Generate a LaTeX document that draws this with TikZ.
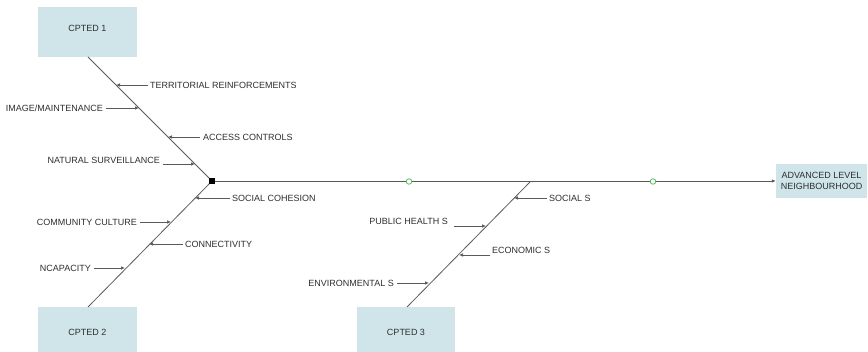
\documentclass[tikz,border=0pt]{standalone}
\usepackage{fontspec}
\setmainfont{Liberation Sans}
\usetikzlibrary{arrows.meta,calc}
\definecolor{boxfill}{HTML}{CFE5E9}
\definecolor{txt}{HTML}{2E2E2E}
\definecolor{ln}{HTML}{5A5A5A}
\definecolor{grn}{HTML}{5CB85C}
\begin{document}
\begin{tikzpicture}[x=1pt,y=-1pt,
  cbox/.style={fill=boxfill,draw=none,inner sep=0pt},
  lbl/.style={font=\fontsize{9}{10.5}\selectfont,text=txt,inner sep=0pt},
  bone/.style={draw=ln,line width=0.8pt},
  rib/.style={draw=ln,line width=0.7pt,-{Latex[length=4pt,width=3.5pt]}},
  gdot/.style={draw=grn,line width=0.8pt,circle,minimum size=5.5pt,inner sep=0pt,fill=white}]
\useasboundingbox (0,0) rectangle (868,352);
% boxes
\node[cbox,minimum width=99pt,minimum height=50pt] (c1) at (87.5,32) {};
\node[lbl] (c1t) at (87.5,28) {CPTED 1};
\node[cbox,minimum width=99pt,minimum height=46pt] (c2) at (87.5,330) {};
\node[lbl] (c2t) at (87.5,332) {CPTED 2};
\node[cbox,minimum width=98pt,minimum height=46pt] (c3) at (406,330) {};
\node[lbl] (c3t) at (406,332) {CPTED 3};
\node[lbl,cbox,minimum width=91pt,minimum height=34pt,align=center] (adv) at (821.5,181) {ADVANCED LEVEL\\NEIGHBOURHOOD};
% junctions
\coordinate (j1) at (212,181);
\coordinate (j3) at (530,182);
\coordinate (b1) at (88,57);
\coordinate (b2) at (88,307);
\coordinate (b3) at (407,307);
% spine
\draw[rib,line width=0.8pt] (j1) -- (adv.west);
\draw[bone] (b1) -- (j1);
\draw[bone] (b2) -- (j1);
\draw[bone] (b3) -- (j3);
\fill[black] ($(j1)+(-3,-3)$) rectangle ($(j1)+(3,3)$);
\node[gdot] (g1) at (409,181.5) {};
\node[gdot] (g2) at (653,181.5) {};
% CPTED 1 ribs
\node[lbl,anchor=west] (t1) at (150,85) {TERRITORIAL REINFORCEMENTS};
\coordinate (p1) at (116,85);
\draw[rib] ([xshift=-2pt]t1.west) -- (p1);
\node[lbl,anchor=east] (t2) at (103,108) {IMAGE/MAINTENANCE};
\coordinate (p2) at (139,108);
\draw[rib] ([xshift=3pt]t2.east) -- (p2);
\node[lbl,anchor=west] (t3) at (203,137) {ACCESS CONTROLS};
\coordinate (p3) at (168,137);
\draw[rib] ([xshift=-3pt]t3.west) -- (p3);
\node[lbl,anchor=east] (t4) at (160,160) {NATURAL SURVEILLANCE};
\coordinate (p4) at (195,164);
\coordinate (s4) at (163,164);
\draw[rib] (s4) -- (p4);
% CPTED 2 ribs
\node[lbl,anchor=west] (t5) at (232,198) {SOCIAL COHESION};
\coordinate (p5) at (195,198);
\draw[rib] ([xshift=-2pt]t5.west) -- (p5);
\node[lbl,anchor=east] (t6) at (137,222) {COMMUNITY CULTURE};
\coordinate (p6) at (171,222);
\draw[rib] ([xshift=3pt]t6.east) -- (p6);
\node[lbl,anchor=west] (t7) at (185,244) {CONNECTIVITY};
\coordinate (p7) at (149,244);
\draw[rib] ([xshift=-2pt]t7.west) -- (p7);
\node[lbl,anchor=east] (t8) at (91,268) {NCAPACITY};
\coordinate (p8) at (125,268);
\draw[rib] ([xshift=3pt]t8.east) -- (p8);
% CPTED 3 ribs
\node[lbl,anchor=west] (t9) at (549,198) {SOCIAL S};
\coordinate (p9) at (514,198);
\draw[rib] ([xshift=-2pt]t9.west) -- (p9);
\node[lbl,anchor=east] (t10) at (448,221) {PUBLIC HEALTH S};
\coordinate (p10) at (486,226);
\coordinate (s10) at (454,226);
\draw[rib] (s10) -- (p10);
\node[lbl,anchor=west] (t11) at (492,250) {ECONOMIC S};
\coordinate (p11) at (459,255);
\coordinate (s11) at (490,255);
\draw[rib] (s11) -- (p11);
\node[lbl,anchor=east] (t12) at (394,283) {ENVIRONMENTAL S};
\coordinate (p12) at (429,283);
\draw[rib] ([xshift=3pt]t12.east) -- (p12);
\end{tikzpicture}
\end{document}
